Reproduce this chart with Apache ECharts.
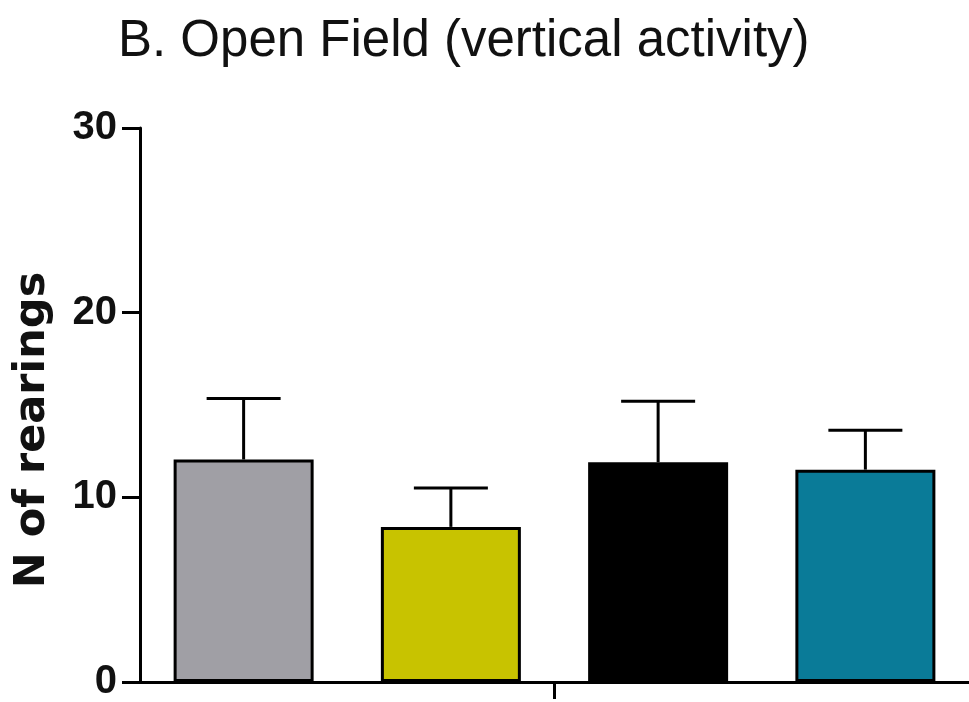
<!DOCTYPE html>
<html>
<head>
<meta charset="utf-8">
<script src="https://cdn.jsdelivr.net/npm/echarts@6/dist/echarts.min.js"></script>
<style>html,body{margin:0;padding:0;background:#fff;}#c{width:969px;height:702px;}</style>
</head>
<body>
<div id="c"></div>
<script>
var categories = ['Group 1', 'Group 2', 'Group 3', 'Group 4'];
var means = [12.05, 8.4, 11.9, 11.5];
var sem = [3.3, 2.1, 3.3, 2.13];
var barColors = ['#a09fa5', '#c8c300', '#000000', '#0a7b98'];
var yTicks = [0, 10, 20, 30];

var chart = echarts.init(document.getElementById('c'));
var errData = categories.map(function (c, i) { return [i, means[i], means[i] + sem[i]]; });

chart.setOption({
  animation: false,
  title: {
    text: 'B. Open Field (vertical activity)',
    left: 113, top: 11,
    textStyle: { fontFamily: 'Liberation Sans, Arial, sans-serif', fontSize: 51, fontWeight: 'normal', color: '#111', lineHeight: 51 }
  },
  grid: { left: 140, top: 128, width: 832, bottom: 17, containLabel: false },
  xAxis: [
    {
      type: 'category',
      data: categories,
      axisLine: { lineStyle: { color: '#000', width: 3 } },
      axisTick: { show: false },
      axisLabel: { show: false },
      splitLine: { show: false }
    },
    {
      type: 'category',
      data: [''],
      position: 'bottom',
      axisLine: { show: false },
      axisTick: { show: true, alignWithLabel: true, length: 17, lineStyle: { color: '#000', width: 3 } },
      axisLabel: { show: false },
      splitLine: { show: false }
    }
  ],
  yAxis: {
    type: 'value',
    min: yTicks[0], max: yTicks[yTicks.length - 1], interval: 10,
    name: 'N of rearings',
    nameLocation: 'middle',
    nameGap: 86,
    nameTextStyle: { fontFamily: 'DejaVu Sans, sans-serif', fontSize: 43, fontWeight: 'bold', color: '#111', padding: [0, 50, 0, 0] },
    axisLine: { show: true, lineStyle: { color: '#000', width: 3 } },
    axisTick: { show: true, length: 18, lineStyle: { color: '#000', width: 3 } },
    axisLabel: { margin: 23, fontFamily: 'Liberation Sans, Arial, sans-serif', fontSize: 40, fontWeight: 'bold', color: '#111' },
    splitLine: { show: false }
  },
  series: [
    {
      type: 'bar',
      barWidth: 140,
      data: means.map(function (v, i) {
        return { value: v, itemStyle: { color: barColors[i], borderColor: '#000', borderWidth: 3 } };
      }),
      z: 2
    },
    {
      type: 'custom',
      data: errData,
      z: 1,
      renderItem: function (params, api) {
        var x = api.value(0);
        var lo = api.coord([x, api.value(1)]);
        var hi = api.coord([x, api.value(2)]);
        var half = 37;
        var st = { stroke: '#000', lineWidth: 3 };
        return {
          type: 'group',
          children: [
            { type: 'line', shape: { x1: lo[0], y1: lo[1], x2: hi[0], y2: hi[1] }, style: st },
            { type: 'line', shape: { x1: hi[0] - half, y1: hi[1], x2: hi[0] + half, y2: hi[1] }, style: st }
          ]
        };
      }
    }
  ]
});
</script>
</body>
</html>
